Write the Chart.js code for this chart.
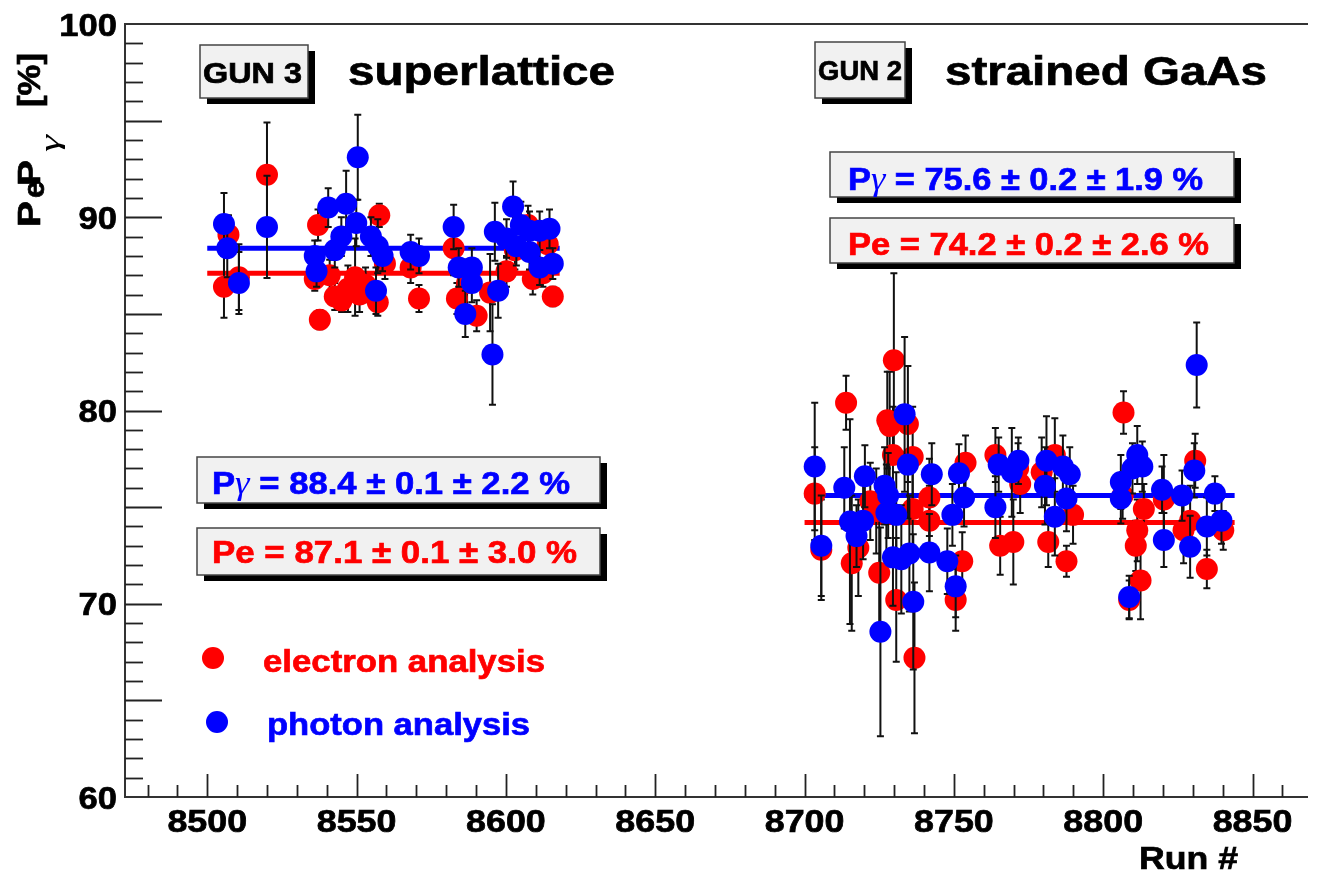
<!DOCTYPE html>
<html><head><meta charset="utf-8">
<script src="https://cdn.jsdelivr.net/npm/chart.js@4.4.0/dist/chart.umd.min.js"></script>
<style>html,body{margin:0;padding:0;background:#fff;}canvas{display:block;}</style>
</head><body>
<canvas id="c" width="1317" height="872"></canvas>
<script>
// ---- data ----
const electronRuns = [8505.6,8507.1,8510.6,8520.0,8536.0,8537.1,8537.7,8541.0,8542.7,8545.0,8547.1,8549.5,8551.0,8553.0,8557.6,8557.1,8559.5,8568.1,8570.9,8582.5,8583.6,8587.0,8590.2,8594.7,8600.2,8603.0,8607.4,8609.0,8612.4,8614.0,8615.7,
  8703.4,8705.6,8713.9,8715.8,8718.0,8722.0,8724.0,8725.0,8727.7,8728.5,8729.9,8729.6,8730.7,8734.6,8736.2,8736.2,8736.8,8741.8,8741.8,8750.6,8752.8,8753.9,8763.9,8765.5,8769.9,8771.5,8772.2,8779.4,8781.6,8783.8,8787.7,8789.9,8806.5,8806.8,8808.7,8810.9,8811.4,8812.5,8813.6,8820.3,8826.9,8829.1,8830.8,8834.7,8840.2];
const electronPol = [86.4,89.1,86.9,92.2,86.8,89.6,84.7,87.0,85.9,85.7,86.3,86.9,86.0,86.5,90.1,85.6,87.6,87.4,85.8,88.4,85.8,86.6,84.9,86.1,87.2,88.3,89.6,86.8,87.1,88.6,85.9,
  75.7,72.8,80.4,72.1,72.9,75.3,74.8,71.6,79.5,79.2,82.6,77.7,70.2,79.3,77.6,74.9,67.2,75.5,74.3,70.2,72.2,77.3,77.7,73.0,73.2,77.0,76.2,76.8,73.2,77.7,72.2,74.6,75.6,79.9,70.2,73.0,73.8,71.2,74.9,75.4,73.8,74.3,77.4,71.8,73.8];
const electronErr = [1.6,1.0,1.7,2.7,0.6,0.8,0.5,0.8,0.7,0.6,1.2,2.0,0.9,0.9,0.6,0.7,0.8,0.8,0.7,1.4,0.8,1.2,0.8,2.0,0.8,1.0,1.0,0.8,0.7,0.9,0.5,
  2.4,2.6,1.4,3.5,2.5,2.0,2.2,2.8,2.5,2.8,4.5,2.5,3.2,3.0,2.6,2.4,3.9,2.0,1.8,1.6,1.5,1.4,1.4,1.5,2.2,1.3,1.5,1.8,1.3,1.9,0.8,1.5,1.2,1.1,1.0,1.3,1.6,2.0,1.3,2.3,1.7,1.8,1.4,1.0,1.0];

const photonRuns = [8505.6,8506.7,8510.6,8520.0,8536.0,8536.6,8540.5,8542.7,8544.9,8546.5,8549.9,8550.4,8554.8,8556.5,8557.1,8558.7,8568.1,8570.9,8582.5,8584.2,8586.4,8588.6,8588.6,8595.5,8596.3,8597.4,8600.2,8602.4,8603.5,8605.0,8607.9,8607.9,8611.3,8611.3,8614.6,8615.7,
  8703.4,8705.6,8713.3,8715.2,8717.4,8719.6,8720.2,8725.4,8726.8,8728.0,8727.4,8730.7,8729.6,8732.4,8733.5,8734.6,8735.1,8736.4,8741.8,8742.6,8747.8,8749.5,8750.6,8751.7,8753.4,8763.9,8765.0,8769.4,8771.6,8780.5,8781.0,8783.8,8786.5,8787.7,8788.8,8805.9,8805.9,8808.7,8809.8,8811.4,8813.1,8819.7,8820.3,8826.4,8829.1,8830.5,8831.3,8834.7,8837.4,8839.6];
const photonPol = [89.65,88.4,86.6,89.5,88.0,87.2,90.5,88.3,89.0,90.7,89.7,93.1,89.0,86.2,88.5,88.0,88.2,88.0,89.5,87.4,85.0,87.4,86.6,82.9,89.25,86.2,88.9,90.55,88.5,89.6,89.3,88.2,89.3,87.4,89.4,87.6,
  77.1,73.0,76.0,74.25,73.5,74.3,76.6,68.55,76.1,75.6,74.7,74.6,72.4,72.3,79.8,77.2,72.6,70.1,72.65,76.7,72.2,74.6,70.9,76.75,75.5,75.0,77.2,76.8,77.4,76.1,77.4,74.5,77.1,75.45,76.7,76.3,75.45,70.35,77.0,77.7,77.1,75.9,73.3,75.6,72.95,76.9,82.35,74.0,75.7,74.3];
const photonErr = [1.6,1.5,1.6,2.65,0.8,0.8,1.0,0.9,1.0,1.7,1.2,2.2,1.0,1.2,1.4,0.8,0.9,0.9,1.15,1.0,1.2,1.0,1.0,2.6,1.5,1.4,1.0,1.3,1.0,1.2,1.0,0.9,1.0,0.9,1.0,0.8,
  3.3,2.6,2.1,5.3,1.6,2.0,1.6,5.4,2.0,2.2,2.5,2.2,2.5,2.8,4.0,2.8,3.0,3.5,2.0,1.6,1.7,1.6,1.6,1.5,1.5,1.6,1.4,2.3,1.2,2.0,2.3,2.0,1.6,1.7,1.4,1.4,1.3,1.1,1.3,1.5,1.3,1.2,1.4,1.3,1.6,1.4,2.2,1.5,0.9,1.2];

const fitRunRanges = [[8500, 8618], [8700, 8844]];
const fitElectron = [87.1, 74.2];
const fitPhoton = [88.4, 75.6];

const xTickValues = [8500, 8550, 8600, 8650, 8700, 8750, 8800, 8850];
const xTickLabels = ['8500', '8550', '8600', '8650', '8700', '8750', '8800', '8850'];
const yTickValues = [60, 70, 80, 90, 100];
const yTickLabels = ['60', '70', '80', '90', '100'];

const resultLabels = {
  gun3: {photon: ' = 88.4 \u00b1 0.1 \u00b1 2.2 %', electron: 'Pe = 87.1 \u00b1 0.1 \u00b1 3.0 %'},
  gun2: {photon: ' = 75.6 \u00b1 0.2 \u00b1 1.9 %', electron: 'Pe = 74.2 \u00b1 0.2 \u00b1 2.6 %'}
};

// ---- helpers ----
const toPts = (xs, ys) => xs.map((x, i) => ({x: x, y: ys[i]}));
const SANS = '"Liberation Sans", Arial, Helvetica, sans-serif';
const SERIF = '"Liberation Serif", "DejaVu Serif", serif';

function fitLine(range, v, color, order) {
  return {type: 'line', data: [{x: range[0], y: v}, {x: range[1], y: v}], borderColor: color,
    borderWidth: 5, pointRadius: 0, fill: false, order: order, tension: 0};
}

// segments: [{t, font, dy}] drawn in sequence and stretched horizontally to span x0..x1
function segFit(ctx, segs, x0, x1, base, color) {
  ctx.save();
  ctx.fillStyle = color;
  ctx.strokeStyle = color;
  ctx.lineWidth = 0.7;
  ctx.textAlign = 'left';
  ctx.textBaseline = 'alphabetic';
  let w = 0;
  segs.forEach(s => { ctx.font = s.font; s.w = ctx.measureText(s.t).width; w += s.w; });
  const sx = (x1 - x0) / w;
  ctx.translate(x0, base);
  ctx.scale(sx, 1);
  let cx = 0;
  segs.forEach(s => {
    ctx.font = s.font;
    ctx.fillText(s.t, cx, s.dy || 0);
    if (s.bold !== false) ctx.strokeText(s.t, cx, s.dy || 0);
    cx += s.w;
  });
  ctx.restore();
}
const B = size => 'bold ' + size + 'px ' + SANS;
function textFit(ctx, s, x0, x1, base, size, color) {
  segFit(ctx, [{t: s, font: B(size)}], x0, x1, base, color);
}
function textScaled(ctx, s, x, base, size, color, align, sx) {
  ctx.save();
  ctx.font = B(size);
  const w = ctx.measureText(s).width * sx;
  ctx.restore();
  let x0 = x;
  if (align === 'center') x0 = x - w / 2;
  else if (align === 'right') x0 = x - w;
  textFit(ctx, s, x0, x0 + w, base, size, color);
}
function shadowBox(ctx, x0, y0, x1, y1) {
  ctx.save();
  ctx.fillStyle = '#000';
  ctx.fillRect(x0 + 7, y0 + 6, x1 - x0, y1 - y0);
  ctx.fillStyle = '#f1f1f1';
  ctx.fillRect(x0, y0, x1 - x0, y1 - y0);
  ctx.strokeStyle = '#444';
  ctx.lineWidth = 1.5;
  ctx.strokeRect(x0, y0, x1 - x0, y1 - y0);
  ctx.restore();
}
function gammaLabel(ctx, rest, x0, x1, base, color) {
  segFit(ctx, [
    {t: 'P', font: B(32)},
    {t: '\u03b3', font: 'italic 34px ' + SERIF, bold: false},
    {t: rest, font: B(32)}
  ], x0, x1, base, color);
}

const errorBarPlugin = {
  id: 'errbars',
  beforeDatasetDraw(chart, args) {
    const ds = chart.data.datasets[args.index];
    if (!ds.errors) return;
    const ctx = chart.ctx, xs = chart.scales.x, ys = chart.scales.y, a = chart.chartArea;
    ctx.save();
    ctx.beginPath();
    ctx.rect(a.left, a.top, a.right - a.left, a.bottom - a.top);
    ctx.clip();
    ctx.strokeStyle = '#111';
    ctx.lineWidth = 2;
    ds.data.forEach((p, i) => {
      const e = ds.errors[i];
      const px = xs.getPixelForValue(p.x);
      const yt = ys.getPixelForValue(p.y + e), yb = ys.getPixelForValue(p.y - e);
      ctx.beginPath();
      ctx.moveTo(px, yt); ctx.lineTo(px, yb);
      ctx.moveTo(px - 3.5, yt); ctx.lineTo(px + 3.5, yt);
      ctx.moveTo(px - 3.5, yb); ctx.lineTo(px + 3.5, yb);
      ctx.stroke();
    });
    ctx.restore();
  }
};

const decorPlugin = {
  id: 'decor',
  afterDraw(chart) {
    const ctx = chart.ctx, xs = chart.scales.x, ys = chart.scales.y, a = chart.chartArea;
    ctx.save();
    // frame
    ctx.strokeStyle = '#333';
    ctx.lineWidth = 2;
    ctx.beginPath();
    ctx.moveTo(a.right + 2, a.top); ctx.lineTo(a.left, a.top); ctx.lineTo(a.left, a.bottom); ctx.lineTo(a.right + 2, a.bottom);
    ctx.stroke();
    // y ticks
    ctx.lineWidth = 1.8;
    ctx.strokeStyle = '#222';
    for (let v = ys.min + 1; v < ys.max; v++) {
      const py = Math.round(ys.getPixelForValue(v)) + 0.5;
      const len = (v % 5 === 0) ? 37 : 18;
      ctx.beginPath(); ctx.moveTo(a.left, py); ctx.lineTo(a.left + len, py); ctx.stroke();
    }
    // x ticks
    for (let v = Math.ceil(xs.min / 10) * 10; v <= xs.max; v += 10) {
      const px = Math.round(xs.getPixelForValue(v)) + 0.5;
      const len = (v % 50 === 0) ? 23 : 12;
      ctx.beginPath(); ctx.moveTo(px, a.bottom); ctx.lineTo(px, a.bottom - len); ctx.stroke();
    }
    // tick labels
    yTickValues.forEach((v, i) => {
      textScaled(ctx, yTickLabels[i], 117, ys.getPixelForValue(v) + 11.5, 32, '#000', 'right', 1.08);
    });
    xTickValues.forEach((v, i) => {
      textScaled(ctx, xTickLabels[i], xs.getPixelForValue(v), 832, 32, '#000', 'center', 1.12);
    });
    // axis titles
    textFit(ctx, 'Run #', 1139, 1238, 869, 32, '#000');
    ctx.save();
    ctx.translate(40, 227);
    ctx.rotate(-Math.PI / 2);
    textFit(ctx, 'P', 0, 26, 0, 32, '#000');
    textFit(ctx, 'e', 29, 46, 4, 29, '#000');
    textFit(ctx, 'P', 41, 67, 0, 32, '#000');
    segFit(ctx, [{t: '\u03b3', font: 'italic 28px ' + SERIF, bold: false}], 75, 92, 19, '#000');
    textFit(ctx, '[%]', 120, 174, 0, 32, '#000');
    ctx.restore();

    // titles
    shadowBox(ctx, 200, 45, 308, 98);
    textFit(ctx, 'GUN 3', 203, 302, 83, 29, '#000');
    textFit(ctx, 'superlattice', 348, 615, 85, 40, '#000');
    shadowBox(ctx, 815, 42, 905, 98);
    textFit(ctx, 'GUN 2', 818, 902, 80, 27, '#000');
    textFit(ctx, 'strained GaAs', 945, 1267, 85, 40, '#000');

    // result boxes
    shadowBox(ctx, 830, 152, 1234, 197);
    gammaLabel(ctx, resultLabels.gun2.photon, 848, 1203, 190, '#0000ff');
    shadowBox(ctx, 830, 218, 1234, 263);
    textFit(ctx, resultLabels.gun2.electron, 848, 1209, 255, 32, '#ff0000');
    shadowBox(ctx, 197, 457, 600, 503);
    gammaLabel(ctx, resultLabels.gun3.photon, 212, 570, 494, '#0000ff');
    shadowBox(ctx, 197, 528, 600, 575);
    textFit(ctx, resultLabels.gun3.electron, 212, 577, 563, 32, '#ff0000');

    // legend
    ctx.fillStyle = '#ff0000';
    ctx.beginPath(); ctx.arc(213, 658, 11, 0, Math.PI * 2); ctx.fill();
    ctx.fillStyle = '#0000ff';
    ctx.beginPath(); ctx.arc(217, 722, 11, 0, Math.PI * 2); ctx.fill();
    textFit(ctx, 'electron analysis', 263, 545, 672, 32, '#ff0000');
    textFit(ctx, 'photon analysis', 267, 530, 735, 32, '#0000ff');
    ctx.restore();
  }
};

new Chart(document.getElementById('c').getContext('2d'), {
  type: 'scatter',
  data: {
    datasets: [
      {label: 'photon analysis', data: toPts(photonRuns, photonPol), errors: photonErr,
        backgroundColor: '#0000ff', borderWidth: 0, pointRadius: 11, pointHoverRadius: 11, order: 0},
      {label: 'electron analysis', data: toPts(electronRuns, electronPol), errors: electronErr,
        backgroundColor: '#ff0000', borderWidth: 0, pointRadius: 11, pointHoverRadius: 11, order: 1},
      fitLine(fitRunRanges[0], fitPhoton[0], '#0000ff', 2),
      fitLine(fitRunRanges[0], fitElectron[0], '#ff0000', 3),
      fitLine(fitRunRanges[1], fitPhoton[1], '#0000ff', 4),
      fitLine(fitRunRanges[1], fitElectron[1], '#ff0000', 5)
    ]
  },
  options: {
    responsive: false,
    animation: false,
    devicePixelRatio: 1,
    events: [],
    layout: {padding: {left: 125, top: 24, right: 0, bottom: 75}},
    scales: {
      x: {type: 'linear', min: 8472.46, max: 8867.9, display: false},
      y: {type: 'linear', min: 60, max: 100, display: false}
    },
    plugins: {legend: {display: false}, tooltip: {enabled: false}}
  },
  plugins: [errorBarPlugin, decorPlugin]
});
</script>
</body></html>
